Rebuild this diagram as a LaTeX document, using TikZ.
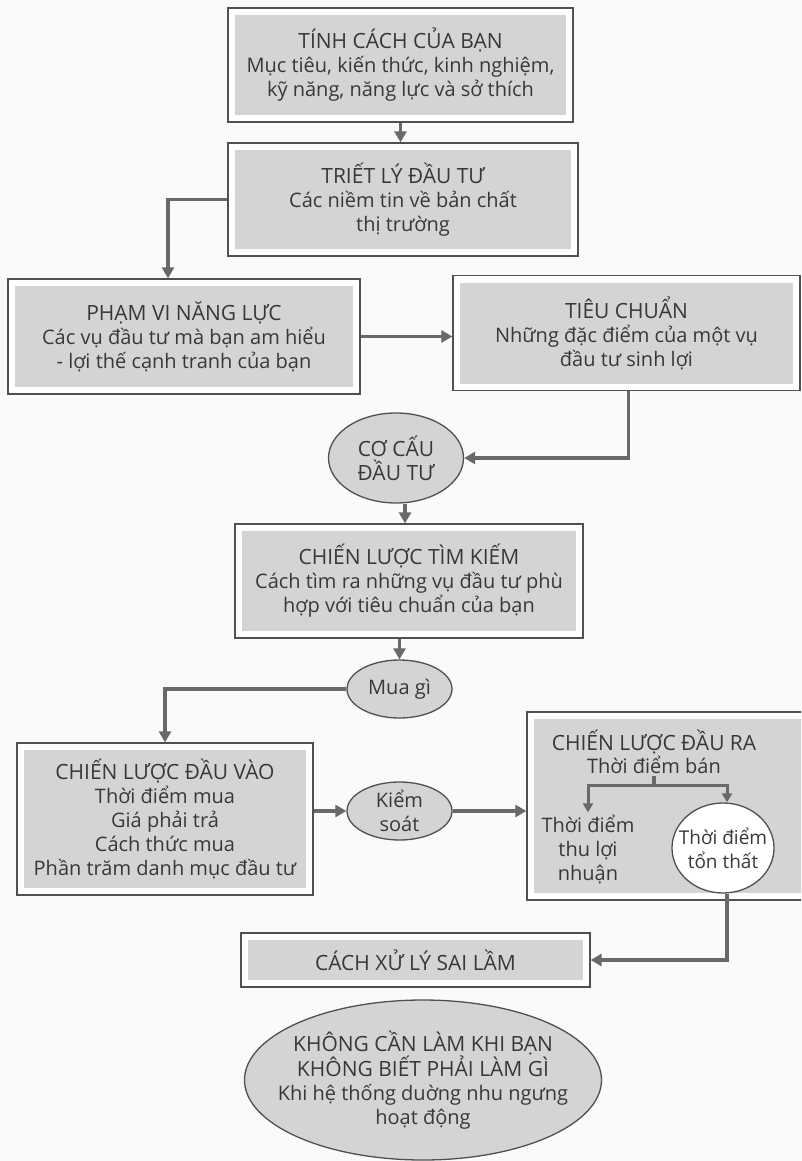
\documentclass[tikz,border=0pt]{standalone}
\usepackage{fontspec}
\setmainfont{Open Sans}
\usetikzlibrary{shapes.geometric,arrows.meta,calc}
\definecolor{txt}{HTML}{383838}
\definecolor{framec}{HTML}{505050}
\definecolor{boxg}{HTML}{D4D4D4}
\definecolor{arrowc}{HTML}{696969}
\definecolor{bgc}{HTML}{FAFAF8}
\newcommand\hdtxt[1]{{\fontsize{21}{24}\selectfont #1}}
\tikzset{
  frame/.style={rectangle, draw=framec, line width=1.3pt, fill=white, inner sep=0pt,
    align=center, text=txt, font=\fontsize{20}{24}\selectfont,
    path picture={\fill[boxg] ([shift={(7pt,-7pt)}]path picture bounding box.north west)
      rectangle ([shift={(-7pt,7pt)}]path picture bounding box.south east);}},
  oval/.style={ellipse, draw=framec, line width=1.3pt, fill=boxg, inner sep=0pt},
  plain/.style={align=center, text=txt, inner sep=2pt, font=\fontsize{20}{24}\selectfont},
  arr/.style={draw=arrowc, line width=3.6pt, -{Triangle[length=11pt,width=12pt]}},
  conn/.style={draw=arrowc, line width=3.6pt},
  sarr/.style={draw=arrowc, line width=3pt, -{Triangle[length=9pt,width=10pt]}},
}
\begin{document}
\begin{tikzpicture}[x=1pt,y=-1pt]
\fill[bgc] (0,0) rectangle (801,1161);
\clip (0,0) rectangle (801,1161);
% boxes
\node[frame, minimum width=345pt, minimum height=114pt] (b1) at (400.5,65)
  {\hdtxt{TÍNH CÁCH CỦA BẠN}\\Mục tiêu, kiến thức, kinh nghiệm,\\kỹ năng, năng lực và sở thích};
\node[frame, minimum width=350pt, minimum height=113pt] (b2) at (403,199.5)
  {\hdtxt{TRIẾT LÝ ĐẦU TƯ}\\Các niềm tin về bản chất\\thị trường};
\node[frame, minimum width=352pt, minimum height=115pt] (b3) at (184,336.5)
  {\hdtxt{PHẠM VI NĂNG LỰC}\\Các vụ đầu tư mà bạn am hiểu\\- lợi thế cạnh tranh của bạn};
\node[frame, minimum width=347pt, minimum height=115pt] (b4) at (626.5,333)
  {\hdtxt{TIÊU CHUẨN}\\Những đặc điểm của một vụ\\đầu tư sinh lợi};
\node[oval, minimum width=135pt, minimum height=90pt] (c1) at (396,458) {};
\node[plain] (c1t) at (c1.center) {\hdtxt{CƠ CẤU}\\\hdtxt{ĐẦU TƯ}};
\node[frame, minimum width=348pt, minimum height=114pt] (b5) at (409,581)
  {\hdtxt{CHIẾN LƯỢC TÌM KIẾM}\\Cách tìm ra những vụ đầu tư phù\\hợp với tiêu chuẩn của bạn};
\node[oval, minimum width=105pt, minimum height=58pt] (m) at (399.5,689) {};
\node[plain] (mt) at (m.center) {Mua gì};
\node[frame, minimum width=296pt, minimum height=152pt] (b6) at (165,819)
  {\hdtxt{CHIẾN LƯỢC ĐẦU VÀO}\\Thời điểm mua\\Giá phải trả\\Cách thức mua\\Phần trăm danh mục đầu tư};
\node[oval, minimum width=105pt, minimum height=58pt] (k) at (399.5,811) {};
\node[plain] (kt) at (k.center) {Kiểm\\soát};
\node[frame, minimum width=310pt, minimum height=188pt] (b7) at (682,806) {};
\node[plain] (t7) at (654,742) {\hdtxt{CHIẾN LƯỢC ĐẦU RA}};
\node[plain] (s7) at (654,765) {Thời điểm bán};
\node[plain] (lt) at (588,849) {Thời điểm\\thu lợi\\nhuận};
\node[oval, fill=white, minimum width=102pt, minimum height=90pt] (ct) at (723,848) {};
\node[plain, font=\fontsize{19}{24}\selectfont] (ctt) at (ct.center) {Thời điểm\\tổn thất};
\node[frame, minimum width=349pt, minimum height=54pt] (b8) at (415.5,960)
  {\hdtxt{CÁCH XỬ LÝ SAI LẦM}};
\node[oval, minimum width=357pt, minimum height=160pt] (e9) at (423,1080) {};
\node[plain] (e9t) at (e9.center)
  {\hdtxt{KHÔNG CẦN LÀM KHI BẠN}\\\hdtxt{KHÔNG BIẾT PHẢI LÀM GÌ}\\Khi hệ thống duờng nhu ngưng\\hoạt động};
% connectors
\draw[arr] (b1.south) -- (b1.south |- b2.north);
\draw[arr] (b2.west) -| ([xshift=-16pt]b3.north);
\draw[arr] (b3.east) -- (b3.east -| b4.west);
\draw[arr] ([xshift=2pt]b4.south) |- (c1.east);
\draw[arr] ([xshift=9pt]c1.south) -- ([xshift=-4pt]b5.north);
\draw[arr] (m.north |- b5.south) -- (m.north);
\draw[arr] (m.west) -| (b6.north);
\draw[arr] (k.west -| b6.east) -- (k.west);
\draw[arr] (k.east) -- (k.east -| b7.west);
\coordinate (br) at (654,785);
\draw[conn] (s7.south) -- (br);
\draw[sarr] (br) -| (lt.north);
\draw[sarr] (br) -| ([xshift=4pt]ct.north);
\draw[arr] ([xshift=4pt]ct.south) |- (b8.east);
\end{tikzpicture}
\end{document}
